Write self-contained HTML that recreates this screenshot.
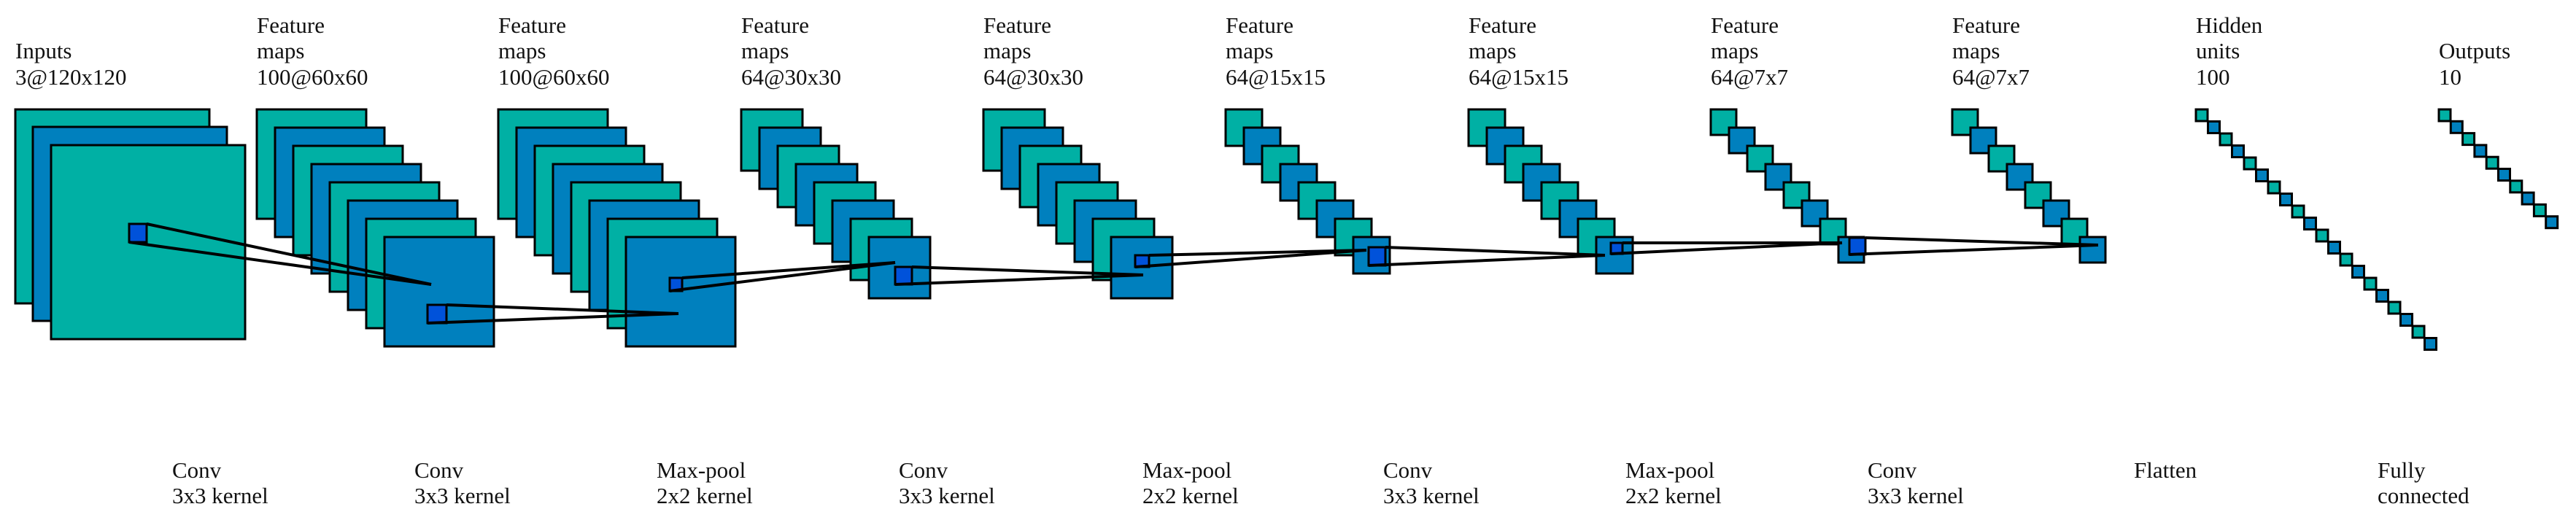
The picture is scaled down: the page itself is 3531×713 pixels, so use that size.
<!DOCTYPE html>
<html><head><meta charset="utf-8"><style>
html,body{margin:0;padding:0;background:#fff;width:3531px;height:713px;overflow:hidden}
svg{display:block}
svg text{font-family:"Liberation Serif","DejaVu Serif",serif !important;font-size:31px;fill:#111}
.t{fill:#00B0A4;stroke:#000;stroke-width:3}
.b{fill:#0080BE;stroke:#000;stroke-width:3}
.k{fill:#0052DA;stroke:#000;stroke-width:3}
line{stroke:#000;stroke-width:4}
</style></head><body>
<svg width="3531" height="713" xmlns="http://www.w3.org/2000/svg" font-family="Liberation Serif, serif">
<rect class="t" x="21" y="150" width="266" height="266"/>
<rect class="b" x="45" y="174" width="266" height="266"/>
<rect class="t" x="70" y="199" width="266" height="266"/>
<g>
<rect class="t" x="352" y="150" width="150" height="150"/>
<rect class="b" x="377" y="175" width="150" height="150"/>
<rect class="t" x="402" y="200" width="150" height="150"/>
<rect class="b" x="427" y="225" width="150" height="150"/>
<rect class="t" x="452" y="250" width="150" height="150"/>
<rect class="b" x="477" y="275" width="150" height="150"/>
<rect class="t" x="502" y="300" width="150" height="150"/>
<rect class="b" x="527" y="325" width="150" height="150"/>
</g>
<g>
<rect class="t" x="683" y="150" width="150" height="150"/>
<rect class="b" x="708" y="175" width="150" height="150"/>
<rect class="t" x="733" y="200" width="150" height="150"/>
<rect class="b" x="758" y="225" width="150" height="150"/>
<rect class="t" x="783" y="250" width="150" height="150"/>
<rect class="b" x="808" y="275" width="150" height="150"/>
<rect class="t" x="833" y="300" width="150" height="150"/>
<rect class="b" x="858" y="325" width="150" height="150"/>
</g>
<g>
<rect class="t" x="1016" y="150" width="84" height="84"/>
<rect class="b" x="1041" y="175" width="84" height="84"/>
<rect class="t" x="1066" y="200" width="84" height="84"/>
<rect class="b" x="1091" y="225" width="84" height="84"/>
<rect class="t" x="1116" y="250" width="84" height="84"/>
<rect class="b" x="1141" y="275" width="84" height="84"/>
<rect class="t" x="1166" y="300" width="84" height="84"/>
<rect class="b" x="1191" y="325" width="84" height="84"/>
</g>
<g>
<rect class="t" x="1348" y="150" width="84" height="84"/>
<rect class="b" x="1373" y="175" width="84" height="84"/>
<rect class="t" x="1398" y="200" width="84" height="84"/>
<rect class="b" x="1423" y="225" width="84" height="84"/>
<rect class="t" x="1448" y="250" width="84" height="84"/>
<rect class="b" x="1473" y="275" width="84" height="84"/>
<rect class="t" x="1498" y="300" width="84" height="84"/>
<rect class="b" x="1523" y="325" width="84" height="84"/>
</g>
<g>
<rect class="t" x="1680" y="150" width="50" height="50"/>
<rect class="b" x="1705" y="175" width="50" height="50"/>
<rect class="t" x="1730" y="200" width="50" height="50"/>
<rect class="b" x="1755" y="225" width="50" height="50"/>
<rect class="t" x="1780" y="250" width="50" height="50"/>
<rect class="b" x="1805" y="275" width="50" height="50"/>
<rect class="t" x="1830" y="300" width="50" height="50"/>
<rect class="b" x="1855" y="325" width="50" height="50"/>
</g>
<g>
<rect class="t" x="2013" y="150" width="50" height="50"/>
<rect class="b" x="2038" y="175" width="50" height="50"/>
<rect class="t" x="2063" y="200" width="50" height="50"/>
<rect class="b" x="2088" y="225" width="50" height="50"/>
<rect class="t" x="2113" y="250" width="50" height="50"/>
<rect class="b" x="2138" y="275" width="50" height="50"/>
<rect class="t" x="2163" y="300" width="50" height="50"/>
<rect class="b" x="2188" y="325" width="50" height="50"/>
</g>
<g>
<rect class="t" x="2345" y="150" width="35" height="35"/>
<rect class="b" x="2370" y="175" width="35" height="35"/>
<rect class="t" x="2395" y="200" width="35" height="35"/>
<rect class="b" x="2420" y="225" width="35" height="35"/>
<rect class="t" x="2445" y="250" width="35" height="35"/>
<rect class="b" x="2470" y="275" width="35" height="35"/>
<rect class="t" x="2495" y="300" width="35" height="35"/>
<rect class="b" x="2520" y="325" width="35" height="35"/>
</g>
<g>
<rect class="t" x="2676" y="150" width="35" height="35"/>
<rect class="b" x="2701" y="175" width="35" height="35"/>
<rect class="t" x="2726" y="200" width="35" height="35"/>
<rect class="b" x="2751" y="225" width="35" height="35"/>
<rect class="t" x="2776" y="250" width="35" height="35"/>
<rect class="b" x="2801" y="275" width="35" height="35"/>
<rect class="t" x="2826" y="300" width="35" height="35"/>
<rect class="b" x="2851" y="325" width="35" height="35"/>
</g>
<g>
<rect class="t" x="3010" y="150" width="16" height="16"/>
<rect class="b" x="3026.5" y="166.5" width="16" height="16"/>
<rect class="t" x="3043" y="183" width="16" height="16"/>
<rect class="b" x="3059.5" y="199.5" width="16" height="16"/>
<rect class="t" x="3076" y="216" width="16" height="16"/>
<rect class="b" x="3092.5" y="232.5" width="16" height="16"/>
<rect class="t" x="3109" y="249" width="16" height="16"/>
<rect class="b" x="3125.5" y="265.5" width="16" height="16"/>
<rect class="t" x="3142" y="282" width="16" height="16"/>
<rect class="b" x="3158.5" y="298.5" width="16" height="16"/>
<rect class="t" x="3175" y="315" width="16" height="16"/>
<rect class="b" x="3191.5" y="331.5" width="16" height="16"/>
<rect class="t" x="3208" y="348" width="16" height="16"/>
<rect class="b" x="3224.5" y="364.5" width="16" height="16"/>
<rect class="t" x="3241" y="381" width="16" height="16"/>
<rect class="b" x="3257.5" y="397.5" width="16" height="16"/>
<rect class="t" x="3274" y="414" width="16" height="16"/>
<rect class="b" x="3290.5" y="430.5" width="16" height="16"/>
<rect class="t" x="3307" y="447" width="16" height="16"/>
<rect class="b" x="3323.5" y="463.5" width="16" height="16"/>
</g>
<g>
<rect class="t" x="3343" y="150" width="16" height="16"/>
<rect class="b" x="3359.3" y="166.3" width="16" height="16"/>
<rect class="t" x="3375.6" y="182.6" width="16" height="16"/>
<rect class="b" x="3391.9" y="198.9" width="16" height="16"/>
<rect class="t" x="3408.2" y="215.2" width="16" height="16"/>
<rect class="b" x="3424.5" y="231.5" width="16" height="16"/>
<rect class="t" x="3440.8" y="247.8" width="16" height="16"/>
<rect class="b" x="3457.1" y="264.1" width="16" height="16"/>
<rect class="t" x="3473.4" y="280.4" width="16" height="16"/>
<rect class="b" x="3489.7" y="296.7" width="16" height="16"/>
</g>
<rect class="k" x="177" y="307" width="24" height="25"/>
<line x1="201" y1="307" x2="591" y2="390"/><line x1="177" y1="332" x2="591" y2="390"/>
<rect class="k" x="586" y="418" width="26" height="25"/>
<line x1="612" y1="418" x2="930" y2="430"/><line x1="586" y1="443" x2="930" y2="430"/>
<rect class="k" x="918" y="381" width="17" height="18"/>
<line x1="935" y1="381" x2="1227" y2="360"/><line x1="918" y1="399" x2="1227" y2="360"/>
<rect class="k" x="1227" y="366" width="23" height="24"/>
<line x1="1250" y1="366" x2="1567" y2="377"/><line x1="1227" y1="390" x2="1567" y2="377"/>
<rect class="k" x="1556" y="350" width="19" height="16"/>
<line x1="1575" y1="350" x2="1873" y2="343"/><line x1="1556" y1="366" x2="1873" y2="343"/>
<rect class="k" x="1876" y="339" width="23" height="25"/>
<line x1="1899" y1="339" x2="2200" y2="350"/><line x1="1876" y1="364" x2="2200" y2="350"/>
<rect class="k" x="2208" y="333" width="16" height="15"/>
<line x1="2224" y1="333" x2="2525" y2="333"/><line x1="2208" y1="348" x2="2525" y2="333"/>
<rect class="k" x="2535" y="326" width="22" height="23"/>
<line x1="2557" y1="326" x2="2876" y2="336"/><line x1="2535" y1="349" x2="2876" y2="336"/>
<g font-family="Liberation Serif, serif" font-size="31">
<text x="21" y="80">Inputs</text><text x="21" y="116">3@120x120</text>
<text x="352" y="45">Feature</text><text x="352" y="80">maps</text><text x="352" y="116">100@60x60</text>
<text x="683" y="45">Feature</text><text x="683" y="80">maps</text><text x="683" y="116">100@60x60</text>
<text x="1016" y="45">Feature</text><text x="1016" y="80">maps</text><text x="1016" y="116">64@30x30</text>
<text x="1348" y="45">Feature</text><text x="1348" y="80">maps</text><text x="1348" y="116">64@30x30</text>
<text x="1680" y="45">Feature</text><text x="1680" y="80">maps</text><text x="1680" y="116">64@15x15</text>
<text x="2013" y="45">Feature</text><text x="2013" y="80">maps</text><text x="2013" y="116">64@15x15</text>
<text x="2345" y="45">Feature</text><text x="2345" y="80">maps</text><text x="2345" y="116">64@7x7</text>
<text x="2676" y="45">Feature</text><text x="2676" y="80">maps</text><text x="2676" y="116">64@7x7</text>
<text x="3010" y="45">Hidden</text><text x="3010" y="80">units</text><text x="3010" y="116">100</text>
<text x="3343" y="80">Outputs</text><text x="3343" y="116">10</text>
<text x="236" y="655">Conv</text><text x="236" y="690">3x3 kernel</text>
<text x="568" y="655">Conv</text><text x="568" y="690">3x3 kernel</text>
<text x="900" y="655">Max-pool</text><text x="900" y="690">2x2 kernel</text>
<text x="1232" y="655">Conv</text><text x="1232" y="690">3x3 kernel</text>
<text x="1566" y="655">Max-pool</text><text x="1566" y="690">2x2 kernel</text>
<text x="1896" y="655">Conv</text><text x="1896" y="690">3x3 kernel</text>
<text x="2228" y="655">Max-pool</text><text x="2228" y="690">2x2 kernel</text>
<text x="2560" y="655">Conv</text><text x="2560" y="690">3x3 kernel</text>
<text x="2925" y="655">Flatten</text>
<text x="3259" y="655">Fully</text><text x="3259" y="690">connected</text>
</g>
</svg>
</body></html>
